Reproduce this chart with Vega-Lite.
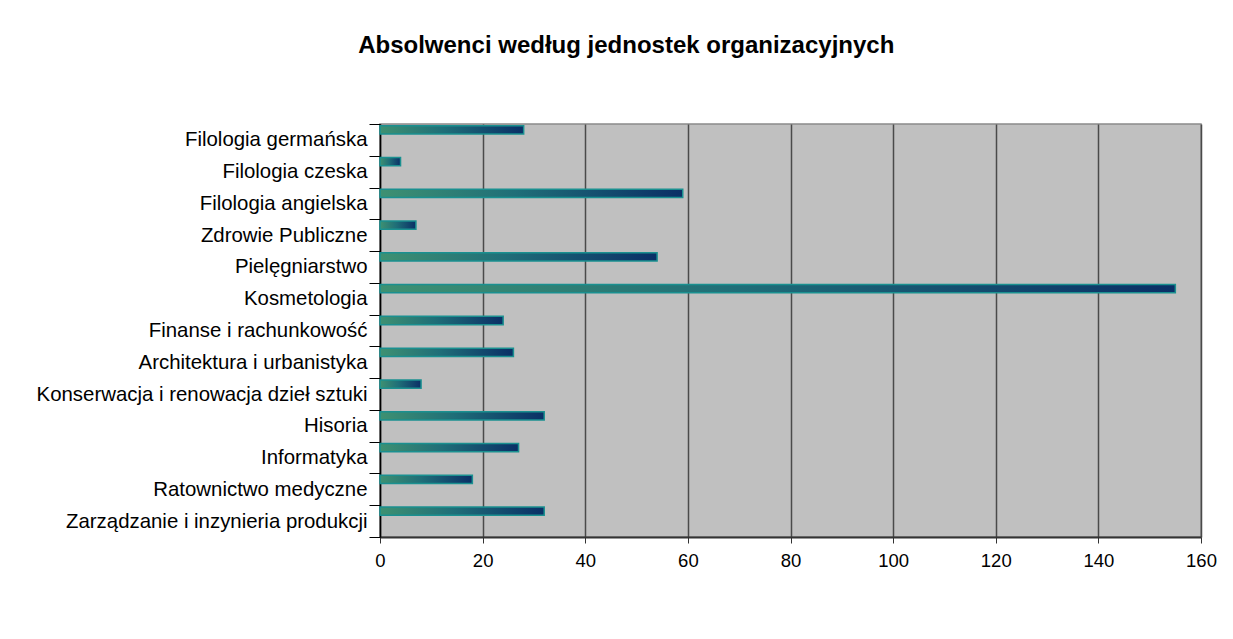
{
  "$schema": "https://vega.github.io/schema/vega-lite/v6.json",
  "width": 821,
  "height": 413,
  "autosize": {"type": "none"},
  "padding": {"left": 380, "top": 124, "right": 32, "bottom": 102},
  "background": "white",
  "title": {
    "text": "Absolwenci według jednostek organizacyjnych",
    "font": "Liberation Sans",
    "fontSize": 24,
    "fontWeight": "bold",
    "color": "black",
    "anchor": "middle",
    "frame": "bounds",
    "offset": 56
  },
  "data": {
    "values": [
      {"jednostka": "Filologia germańska", "absolwenci": 28},
      {"jednostka": "Filologia czeska", "absolwenci": 4},
      {"jednostka": "Filologia angielska", "absolwenci": 59},
      {"jednostka": "Zdrowie Publiczne", "absolwenci": 7},
      {"jednostka": "Pielęgniarstwo", "absolwenci": 54},
      {"jednostka": "Kosmetologia", "absolwenci": 155},
      {"jednostka": "Finanse i rachunkowość", "absolwenci": 24},
      {"jednostka": "Architektura i urbanistyka", "absolwenci": 26},
      {"jednostka": "Konserwacja i renowacja dzieł sztuki", "absolwenci": 8},
      {"jednostka": "Hisoria", "absolwenci": 32},
      {"jednostka": "Informatyka", "absolwenci": 27},
      {"jednostka": "Ratownictwo medyczne", "absolwenci": 18},
      {"jednostka": "Zarządzanie i inzynieria produkcji", "absolwenci": 32}
    ]
  },
  "mark": {
    "type": "bar",
    "height": {"band": 0.26},
    "yOffset": -10,
    "stroke": "#1A9090",
    "strokeWidth": 1.5,
    "color": {
      "gradient": "linear",
      "x1": 0, "x2": 1, "y1": 0, "y2": 0,
      "stops": [
        {"offset": 0, "color": "#3E9172"},
        {"offset": 0.45, "color": "#1F6E78"},
        {"offset": 1, "color": "#0A2F66"}
      ]
    }
  },
  "encoding": {
    "y": {
      "field": "jednostka",
      "type": "nominal",
      "sort": null,
      "title": null,
      "scale": {"paddingInner": 0, "paddingOuter": 0},
      "axis": {
        "tickBand": "extent",
        "labelFont": "Liberation Sans",
        "labelFontSize": 20.4,
        "labelColor": "black",
        "tickColor": "black",
        "tickSize": 11,
        "labelPadding": 2,
        "domainColor": "black",
        "domainWidth": 1.5,
        "labelLimit": 400,
        "grid": false
      }
    },
    "x": {
      "field": "absolwenci",
      "type": "quantitative",
      "title": null,
      "scale": {"domain": [0, 160], "nice": false},
      "axis": {
        "values": [0, 20, 40, 60, 80, 100, 120, 140, 160],
        "labelFont": "Liberation Sans",
        "labelFontSize": 18.5,
        "labelColor": "black",
        "tickColor": "#333333",
        "tickSize": 6,
        "labelPadding": 8,
        "domainColor": "#333333",
        "domainWidth": 2,
        "grid": true,
        "gridColor": "#4A4A4A",
        "gridWidth": 1.5,
        "labelFlush": false
      }
    }
  },
  "config": {
    "view": {"fill": "#C0C0C0", "stroke": "#8A8A8A", "strokeWidth": 1.5}
  }
}
